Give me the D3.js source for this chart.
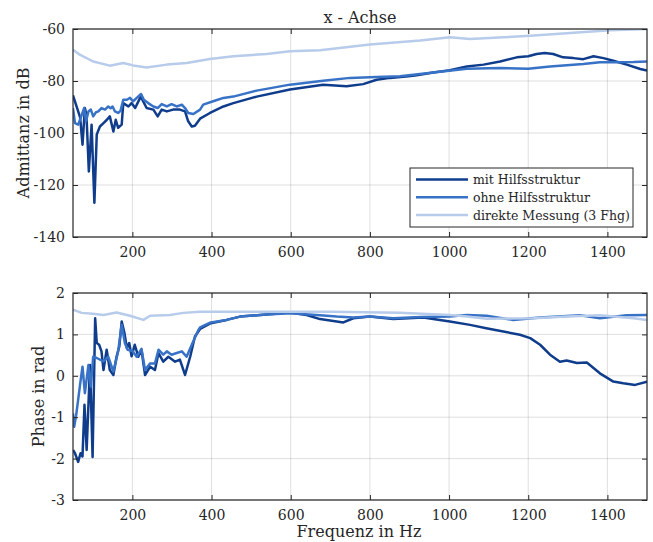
<!DOCTYPE html>
<html>
<head>
<meta charset="utf-8">
<script src="https://cdn.jsdelivr.net/npm/d3@7"></script>
<style>
  body { margin: 0; background: #fff; }
  svg { display: block; font-family: "DejaVu Serif", serif; }
  .grid line { stroke: #262626; stroke-opacity: 0.15; }
  .tick text { fill: #262626; }
</style>
</head>
<body>
<script>

// Series names and colours (legend order)
const seriesNames = ["mit Hilfsstruktur", "ohne Hilfsstruktur", "direkte Messung (3 Fhg)"];
const seriesColors = ["#0f3d8c", "#3872c6", "#b7cbea"];

// Tick values
const xTicks = [200, 400, 600, 800, 1000, 1200, 1400];
const magTicks = [-140, -120, -100, -80, -60];
const phaseTicks = [-3, -2, -1, 0, 1, 2];

// Admittance in dB, [frequency, value]
const magMit = [[50,-85.5],[59,-89.8],[68,-94],[74,-104.5],[80,-90.4],[84,-93],[90,-114.8],[97,-96.8],[104,-126.8],[110,-100.6],[118,-97.5],[127,-96.2],[135,-95],[143,-93.6],[152,-99.4],[158,-94.9],[164,-98],[173,-96.8],[177,-88.5],[190,-89.8],[198,-88.5],[207,-90.4],[213,-88.5],[221,-86],[228,-88],[236,-90.4],[253,-91],[264,-93.6],[274,-91],[287,-91.7],[303,-91],[320,-91],[333,-91.7],[341,-95.5],[350,-97.5],[358,-97.2],[371,-94.5],[396,-92.3],[430,-89.8],[455,-88.5],[514,-86],[598,-83.3],[682,-81.4],[741,-82],[783,-81.2],[817,-79.5],[851,-78.8],[897,-78.2],[918,-77.8],[960,-76.7],[1002,-75.9],[1045,-74.4],[1087,-73.7],[1129,-72.5],[1171,-70.9],[1200,-70.5],[1221,-69.6],[1242,-69.2],[1263,-69.6],[1288,-70.9],[1314,-71.2],[1339,-71.6],[1365,-70.5],[1390,-71.2],[1415,-72.2],[1449,-73.7],[1483,-75.4],[1500,-76]];
const magOhne = [[50,-90.4],[55,-96.2],[63,-96.8],[70,-94],[78,-90.4],[83,-95.5],[89,-91.7],[95,-91],[101,-93.6],[108,-92],[114,-91.7],[122,-90.4],[131,-91],[139,-89.8],[145,-90.5],[150,-89.8],[156,-91.7],[164,-92.3],[170,-91.5],[177,-87.2],[186,-87.2],[194,-86.5],[202,-87.8],[211,-86.5],[222,-85],[229,-87.2],[240,-88.5],[253,-89.8],[264,-90.4],[274,-88.9],[287,-89.8],[299,-88.9],[312,-89.8],[325,-89.1],[333,-90.4],[341,-92.3],[354,-92.7],[371,-91],[379,-89.1],[404,-87.8],[430,-86.5],[455,-86],[514,-83.7],[598,-81.4],[682,-79.9],[750,-78.8],[817,-78.5],[876,-78.2],[960,-76.7],[1045,-75.3],[1129,-75],[1200,-75.3],[1255,-74.4],[1339,-73.5],[1381,-72.8],[1424,-72.8],[1466,-72.7],[1500,-72.5]];
const magDirekt = [[50,-68],[67,-69.9],[101,-72.5],[143,-74.1],[177,-73.1],[202,-74],[236,-74.8],[287,-73.7],[337,-73.1],[396,-71.5],[455,-70.5],[539,-69.6],[598,-68.6],[674,-68.2],[800,-66],[927,-64.4],[1002,-63.2],[1053,-63.8],[1137,-63.2],[1205,-62.6],[1306,-61.5],[1407,-60.5],[1500,-60]];

// Phase in rad, [frequency, value]
const phaseMit = [[50,-1.79],[55,-1.87],[63,-2.08],[69,-1.87],[74,-1.95],[79,-0.7],[84.5,-1.79],[93,0.26],[99.5,-1.96],[106,1.39],[110,0.79],[116,0.75],[122,0.59],[127,0.14],[135,0.63],[143,0.14],[152,0.02],[160,0.46],[167,0.71],[173,1.31],[180,1.03],[186,0.67],[192,0.79],[198,0.47],[206,0.75],[215,0.46],[223,0.63],[232,0.02],[245,0.22],[257,0.14],[266,0.55],[278,0.34],[291,0.46],[308,0.34],[320,0.39],[333,0.02],[346,0.46],[358,0.95],[371,1.13],[398,1.27],[438,1.35],[472,1.43],[539,1.48],[598,1.53],[640,1.47],[674,1.37],[733,1.29],[758,1.39],[800,1.43],[859,1.37],[935,1.41],[1002,1.31],[1053,1.23],[1094,1.15],[1137,1.07],[1179,0.99],[1205,0.91],[1230,0.75],[1255,0.51],[1280,0.34],[1297,0.37],[1323,0.31],[1348,0.32],[1381,0.06],[1415,-0.14],[1440,-0.18],[1470,-0.22],[1500,-0.14]];
const phaseOhne = [[50,-0.91],[53,-1.23],[58,-0.95],[63,-0.58],[68,-0.2],[74,0.22],[80,-0.42],[89,0.26],[95,-0.26],[101,0.46],[110,0.43],[127,0.35],[139,0.46],[152,0.1],[164,0.59],[173,1.23],[181,0.79],[188,0.63],[200,0.6],[211,0.46],[223,0.65],[232,0.14],[245,0.3],[257,0.3],[266,0.63],[278,0.51],[287,0.59],[299,0.51],[312,0.55],[325,0.59],[337,0.46],[350,0.75],[367,1.11],[371,1.17],[398,1.29],[438,1.35],[472,1.43],[539,1.48],[598,1.51],[674,1.46],[716,1.43],[758,1.41],[800,1.43],[859,1.39],[930,1.42],[1002,1.43],[1045,1.47],[1095,1.45],[1162,1.35],[1230,1.41],[1331,1.46],[1381,1.39],[1449,1.46],[1500,1.47]];
const phaseDirekt = [[50,1.6],[72,1.52],[100,1.5],[127,1.47],[160,1.53],[194,1.45],[228,1.35],[245,1.45],[295,1.47],[329,1.52],[371,1.55],[500,1.55],[699,1.55],[876,1.52],[1002,1.47],[1045,1.43],[1095,1.38],[1213,1.39],[1297,1.43],[1381,1.46],[1466,1.39],[1500,1.35]];

const width = 653;
const height = 542;

let svg = d3.select("body")
    .append("svg")
    .attr("width", width)
    .attr("height", height);

// Shared frequency scale
let x = d3.scaleLinear().domain([50, 1500]).range([73, 647]);

// Plain hyphen for negative tick labels, like the original figure
let fmt = d => String(d);

// Draws one subplot: grid, lines, box, ticks and labels
function drawPanel(id, top, bottom, yDomain, yTicks, series, yLabel, labelX) {
  let y = d3.scaleLinear().domain(yDomain).range([bottom, top]);

  svg.append("clipPath").attr("id", id)
    .append("rect")
    .attr("x", x.range()[0]).attr("y", top)
    .attr("width", x.range()[1] - x.range()[0]).attr("height", bottom - top);

  // grid lines
  let grid = svg.append("g").attr("class", "grid");
  grid.selectAll(".gx").data(xTicks).enter().append("line")
      .attr("x1", d => x(d)).attr("x2", d => x(d))
      .attr("y1", top).attr("y2", bottom);
  grid.selectAll(".gy").data(yTicks).enter().append("line")
      .attr("x1", x.range()[0]).attr("x2", x.range()[1])
      .attr("y1", d => y(d)).attr("y2", d => y(d));

  let line = d3.line()
      .x(d => x(d[0]))
      .y(d => y(d[1]));

  svg.append("g")
      .attr("clip-path", "url(#" + id + ")")
      .selectAll("path")
      .data(series)
      .enter()
      .append("path")
      .attr("d", d => line(d))
      .attr("fill", "none")
      .attr("stroke", (d, i) => seriesColors[i])
      .attr("stroke-width", 2.5)
      .attr("stroke-linejoin", "round");

  // axes with inward ticks on all four sides
  svg.append("g").attr("transform", "translate(0," + bottom + ")")
      .call(d3.axisBottom(x).tickValues(xTicks).tickSizeInner(-5).tickSizeOuter(0).tickPadding(10).tickFormat(fmt));
  svg.append("g").attr("transform", "translate(0," + top + ")")
      .call(d3.axisTop(x).tickValues(xTicks).tickSizeInner(-5).tickSizeOuter(0).tickFormat(""));
  svg.append("g").attr("transform", "translate(" + x.range()[0] + ",0)")
      .call(d3.axisLeft(y).tickValues(yTicks).tickSizeInner(-5).tickSizeOuter(0).tickPadding(8).tickFormat(fmt));
  svg.append("g").attr("transform", "translate(" + x.range()[1] + ",0)")
      .call(d3.axisRight(y).tickValues(yTicks).tickSizeInner(-5).tickSizeOuter(0).tickFormat(""));

  svg.selectAll(".domain").remove();
  svg.selectAll(".tick line").attr("stroke", "#262626");
  svg.selectAll(".tick text").style("font-size", "14px").style("font-family", "DejaVu Serif");

  svg.append("rect")
      .attr("x", x.range()[0]).attr("y", top)
      .attr("width", x.range()[1] - x.range()[0]).attr("height", bottom - top)
      .attr("fill", "none")
      .attr("stroke", "#262626")
      .attr("stroke-width", 1.2);

  svg.append("text")
      .attr("transform", "translate(" + labelX + "," + (top + bottom) / 2 + ") rotate(-90)")
      .attr("text-anchor", "middle")
      .attr("dominant-baseline", "central")
      .style("font-size", "16px")
      .attr("fill", "#262626")
      .text(yLabel);

  return y;
}

drawPanel("clipMag", 29, 237, [-140, -60], magTicks, [magMit, magOhne, magDirekt], "Admittanz in dB", 23);
drawPanel("clipPhase", 293, 500, [-3, 2], phaseTicks, [phaseMit, phaseOhne, phaseDirekt], "Phase in rad", 38);

// Title and x label
svg.append("text")
    .attr("x", 360).attr("y", 17)
    .attr("text-anchor", "middle")
    .attr("dominant-baseline", "central")
    .style("font-size", "16px")
    .attr("fill", "#262626")
    .text("x - Achse");

svg.append("text")
    .attr("x", 359).attr("y", 531)
    .attr("text-anchor", "middle")
    .attr("dominant-baseline", "central")
    .style("font-size", "16px")
    .attr("fill", "#262626")
    .text("Frequenz in Hz");

// Legend
let legend = svg.append("g");
legend.append("rect")
    .attr("x", 410).attr("y", 168)
    .attr("width", 223).attr("height", 59)
    .attr("fill", "#fff")
    .attr("stroke", "#262626")
    .attr("stroke-width", 1);

let entry = legend.selectAll(".entry")
    .data(seriesNames)
    .enter()
    .append("g")
    .attr("transform", (d, i) => "translate(0," + (179.5 + i * 17.8) + ")");

entry.append("line")
    .attr("x1", 416).attr("x2", 468)
    .attr("stroke", (d, i) => seriesColors[i])
    .attr("stroke-width", 2.5);

entry.append("text")
    .attr("x", 473)
    .attr("dominant-baseline", "central")
    .style("font-size", "12.5px")
    .attr("fill", "#262626")
    .text(d => d);

</script>
</body>
</html>
